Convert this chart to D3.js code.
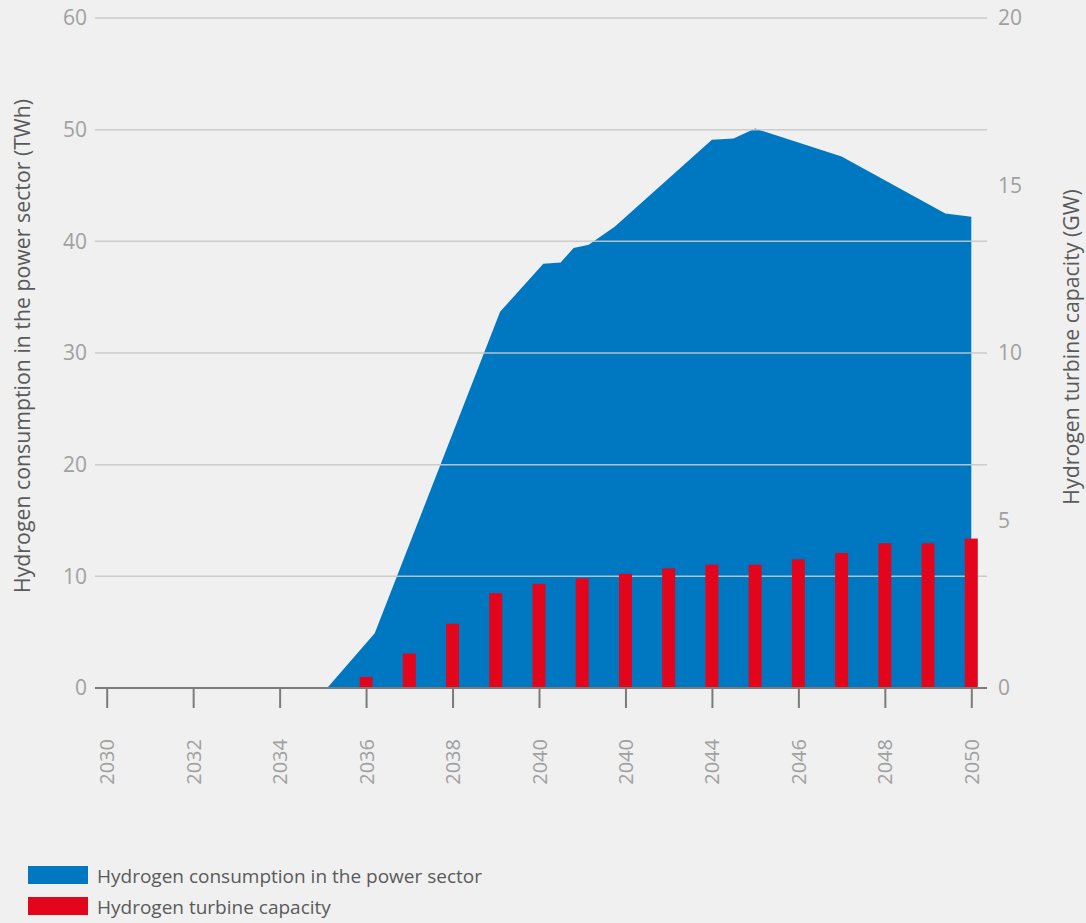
<!DOCTYPE html>
<html><head><meta charset="utf-8">
<script src="https://cdn.jsdelivr.net/npm/d3@7"></script>
<style>
body{margin:0;background:#f0f0f0;}
svg{display:block;font-family:"Open Sans",sans-serif;}
</style>
</head><body>
<svg id="c" width="1086" height="923"></svg>
<script>
// ---- data ----
const areaYears  = [2035.1, 2036.2, 2039.1, 2040.1, 2040.5, 2040.8, 2041.15, 2041.75, 2044.0, 2044.5, 2045.0, 2047.0, 2049.4, 2050.0];
const areaValues = [0, 4.9, 33.7, 38.0, 38.1, 39.4, 39.7, 41.3, 49.1, 49.2, 50.1, 47.6, 42.5, 42.2]; // TWh
const barYears   = [2036, 2037, 2038, 2039, 2040, 2041, 2042, 2043, 2044, 2045, 2046, 2047, 2048, 2049, 2050];
const barValues  = [0.33, 1.03, 1.92, 2.83, 3.11, 3.27, 3.41, 3.57, 3.68, 3.68, 3.84, 4.03, 4.32, 4.32, 4.46]; // GW
const xTickYears  = [2030, 2032, 2034, 2036, 2038, 2040, 2042, 2044, 2046, 2048, 2050];
const xTickLabels = ["2030", "2032", "2034", "2036", "2038", "2040", "2040", "2044", "2046", "2048", "2050"];
const leftTicks  = [0, 10, 20, 30, 40, 50, 60];
const rightTicks = [0, 5, 10, 15, 20];
const leftTitle  = "Hydrogen consumption in the power sector (TWh)";
const rightTitle = "Hydrogen turbine capacity (GW)";
const legendItems = ["Hydrogen consumption in the power sector", "Hydrogen turbine capacity"];

// ---- styles ----
const BLUE = "#0078c1", RED = "#e2051c", GRID = "#c9c9c9", AXIS = "#7b7b7b", TICKTXT = "#a0a0a0", TXT = "#5a5a5a";

const svg = d3.select("#c");
svg.append("rect").attr("width", 1086).attr("height", 923).attr("fill", "#f0f0f0");

const x = d3.scaleLinear().domain([2030, 2050]).range([106.7, 971.3]);
const yL = d3.scaleLinear().domain([0, 60]).range([688, 18]);
const yR = d3.scaleLinear().domain([0, 20]).range([688, 18]);
const gridX0 = 95, gridX1 = 987;

// area
const areaData = areaYears.map((yr, i) => ({yr, v: areaValues[i]}));
svg.append("path")
  .datum(areaData)
  .attr("fill", BLUE)
  .attr("d", d3.area().x(d => x(d.yr)).y0(yL(0)).y1(d => yL(d.v)));

// gridlines (over area)
svg.append("g").selectAll("line").data(leftTicks.filter(t => t > 0)).join("line")
  .attr("x1", gridX0).attr("x2", gridX1)
  .attr("y1", d => yL(d)).attr("y2", d => yL(d))
  .attr("stroke", GRID).attr("stroke-width", 1.5).attr("opacity", 0.9);

// bars
const bw = (x(2031) - x(2030)) * 0.3;
svg.append("g").selectAll("rect").data(barYears.map((yr, i) => ({yr, v: barValues[i]}))).join("rect")
  .attr("x", d => x(d.yr) - bw / 2)
  .attr("width", bw)
  .attr("y", d => yR(d.v))
  .attr("height", d => yR(0) - yR(d.v))
  .attr("fill", RED);

// x axis
const xAxis = svg.append("g").attr("transform", `translate(0,${yL(0)})`)
  .call(d3.axisBottom(x).tickValues(xTickYears).tickSize(20).tickSizeOuter(0)
        .tickFormat((d, i) => xTickLabels[i]));
xAxis.select(".domain").remove();
xAxis.append("line").attr("x1", gridX0).attr("x2", gridX1).attr("y1", 0).attr("y2", 0)
  .attr("stroke", AXIS).attr("stroke-width", 2);
xAxis.selectAll(".tick line").attr("stroke", AXIS).attr("stroke-width", 2);
xAxis.selectAll(".tick text")
  .attr("fill", TICKTXT).attr("font-size", 20).attr("font-family", '"Open Sans",sans-serif')
  .attr("text-anchor", "end")
  .attr("transform", "translate(0,51) rotate(-90)")
  .attr("x", 0).attr("y", 0).attr("dy", "0.35em");

// left axis labels
const lAxis = svg.append("g").attr("transform", `translate(${gridX0},0)`)
  .call(d3.axisLeft(yL).tickValues(leftTicks).tickSize(0).tickPadding(8));
lAxis.select(".domain").remove();
lAxis.selectAll(".tick text").attr("fill", TICKTXT).attr("font-size", 21).attr("font-family", '"Open Sans",sans-serif');

// right axis labels
const rAxis = svg.append("g").attr("transform", `translate(${gridX1},0)`)
  .call(d3.axisRight(yR).tickValues(rightTicks).tickSize(0).tickPadding(11));
rAxis.select(".domain").remove();
rAxis.selectAll(".tick text").attr("fill", TICKTXT).attr("font-size", 21).attr("font-family", '"Open Sans",sans-serif');

// axis titles
svg.append("text").text(leftTitle)
  .attr("transform", "translate(30,346) rotate(-90)")
  .attr("text-anchor", "middle").attr("fill", TXT).attr("font-size", 21.3);
svg.append("text").text(rightTitle)
  .attr("transform", "translate(1079,347) rotate(-90)")
  .attr("text-anchor", "middle").attr("fill", TXT).attr("font-size", 21.3);

// legend
const lg = svg.append("g");
[BLUE, RED].forEach((c, i) => {
  lg.append("rect").attr("x", 28).attr("y", 866 + i * 31).attr("width", 60).attr("height", 18).attr("fill", c);
  lg.append("text").text(legendItems[i]).attr("x", 97).attr("y", 883 + i * 31)
    .attr("fill", TXT).attr("font-size", 19);
});
</script>
</body></html>
